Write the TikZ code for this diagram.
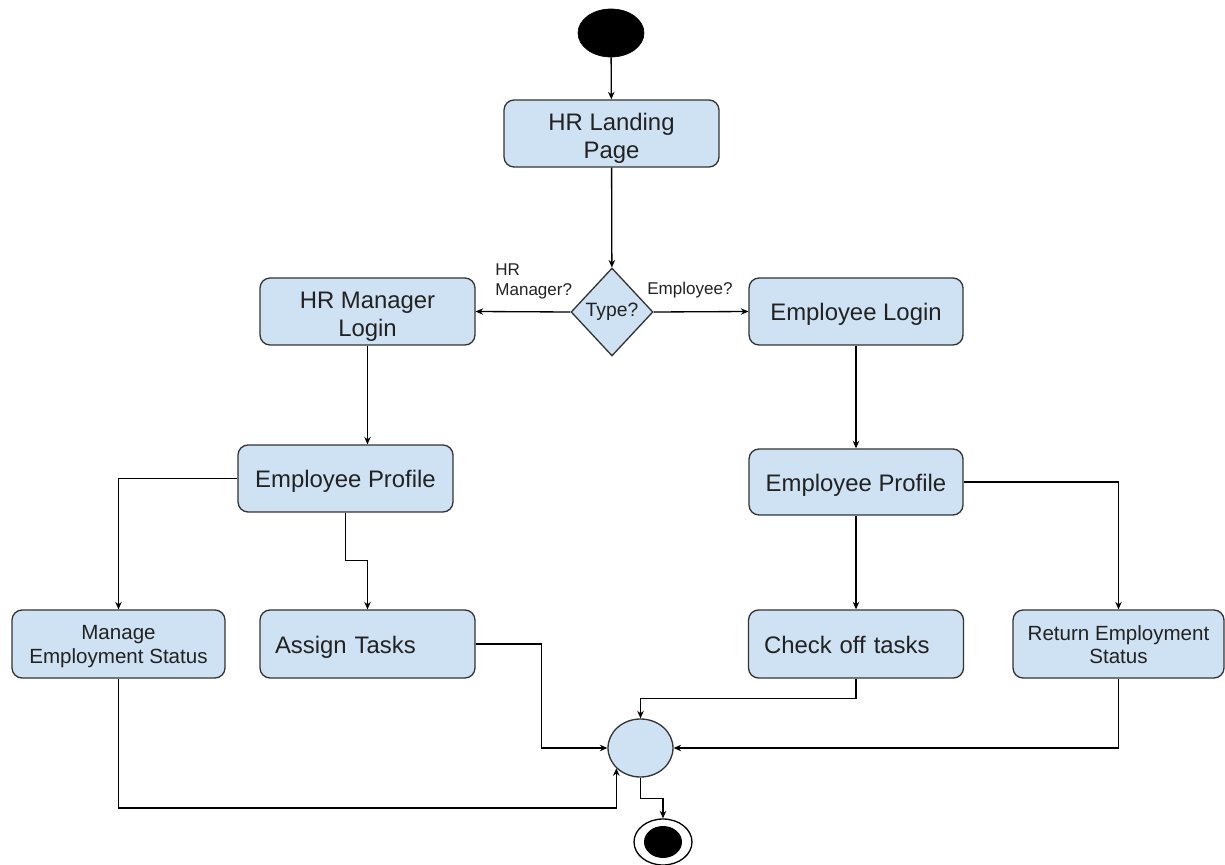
\documentclass[tikz,border=0pt]{standalone}
\usepackage{fontspec}
\setmainfont{Liberation Sans}
\usetikzlibrary{shapes.geometric,arrows.meta}
\definecolor{boxfill}{HTML}{CFE2F3}
\definecolor{edge}{HTML}{333333}
\definecolor{ink}{HTML}{222222}
% two centred lines on struts, set lower than their reported extent
\newcommand\twolines[3]{\raisebox{#1}[\height][\depth]{\begin{tabular}{@{}c@{}}#2\\#3\end{tabular}}}
\begin{document}
\begin{tikzpicture}[x=0.02cm,y=-0.02cm,
  every node/.style={text=ink},
  actbox/.style={draw=edge,fill=boxfill,line width=0.75pt,rounded corners=0.2cm,
    minimum width=4.3cm,minimum height=1.34cm,inner sep=0pt,align=center,
    font=\fontsize{13.6}{15.8}\selectfont},
  oneline/.style={text height=12.24pt,text depth=1.81pt},
  smallbox/.style={actbox,font=\fontsize{11.7}{13.3}\selectfont},
  leftbox/.style={actbox,oneline,text width=3.7cm,inner xsep=0.3cm,align=left},
  decide/.style={diamond,draw=edge,fill=boxfill,line width=0.75pt,inner sep=0pt,
    minimum width=1.64cm,minimum height=1.76cm,font=\fontsize{11}{13}\selectfont},
  guard/.style={font=\fontsize{9.7}{11.4}\selectfont,align=left,inner sep=0pt},
  flow/.style={draw=black,line width=0.75pt,-{Stealth[length=1.5mm,width=1.3mm]}}]
\useasboundingbox (0,0) rectangle (1225,865);

% initial and final states
\node[ellipse,fill=black,draw=black,minimum width=1.32cm,minimum height=0.96cm,inner sep=0pt] (start) at (611,33) {};
\node[ellipse,fill=white,draw=black,line width=0.75pt,minimum width=1.16cm,minimum height=0.92cm,inner sep=0pt] (final) at (663,842) {};
\node[ellipse,fill=black,minimum width=0.76cm,minimum height=0.64cm,inner sep=0pt] (finaldot) at (final.center) {};

% activities
\node[actbox] (land) at (611.5,133.5) {\twolines{-0.11cm}{HR Landing}{Page}};
\node[decide,aspect=0.93] (type) at (612,312) {Type?};
\node[actbox] (hrlogin) at (367.5,311.5) {\twolines{-0.11cm}{HR Manager}{Login}};
\node[actbox,oneline,minimum width=4.28cm] (emplogin) at (856,311.5) {Employee Login};
\node[actbox,oneline] (prof1) at (345.5,478.5) {Employee Profile};
\node[actbox,oneline,minimum width=4.28cm,minimum height=1.32cm] (prof2) at (856,482) {Employee Profile};
\node[smallbox,minimum width=4.26cm,minimum height=1.36cm] (manage) at (118.5,644) {\twolines{-0.06cm}{Manage}{Employment Status}};
\node[leftbox,minimum height=1.36cm] (assign) at (367.5,644) {Assign Tasks};
\node[leftbox,text width=3.68cm,minimum height=1.36cm] (check) at (856,644) {Check off tasks};
\node[smallbox,minimum width=4.22cm,minimum height=1.36cm] (ret) at (1118.5,644) {\twolines{-0.07cm}{Return Employment}{Status}};
\node[ellipse,draw=edge,fill=boxfill,line width=0.75pt,minimum width=1.3cm,minimum height=1.16cm,inner sep=0pt] (merge) at (640.5,748) {};

% guard labels
\node[guard,anchor=north west] (gmgr) at (495,263) {HR\\Manager?};
\node[guard,anchor=base] (gemp) at (690,294.3) {Employee?};

% control flow
\draw[flow] (start) -- (land);
\draw[flow] (land) -- (type);
\draw[flow] (type.west) -- (hrlogin.east);
\draw[flow] (type.east) -- (emplogin.west);
\draw[flow] (hrlogin) -- (prof1.north -| hrlogin);
\draw[flow] (emplogin) -- (prof2);
\draw[flow] (prof1.west) -| (manage.north);
\draw[flow] (prof1.south) -- ++(0,48) -| (assign.north);
\draw[flow] (prof2) -- (check);
\draw[flow] (prof2.east) -| (ret.north);
\draw[flow] (assign.east) -- ++(66,0) |- (merge.west);
\draw[flow] (manage.south) |- (merge.220 |- 0,808) -- (merge.220);
\draw[flow] (check.south) -- ++(0,20) -| (merge.north);
\draw[flow] (ret.south) |- (merge.east);
\draw[flow] (merge.south) -- ++(0,21) -| (final.north);
\end{tikzpicture}
\end{document}
